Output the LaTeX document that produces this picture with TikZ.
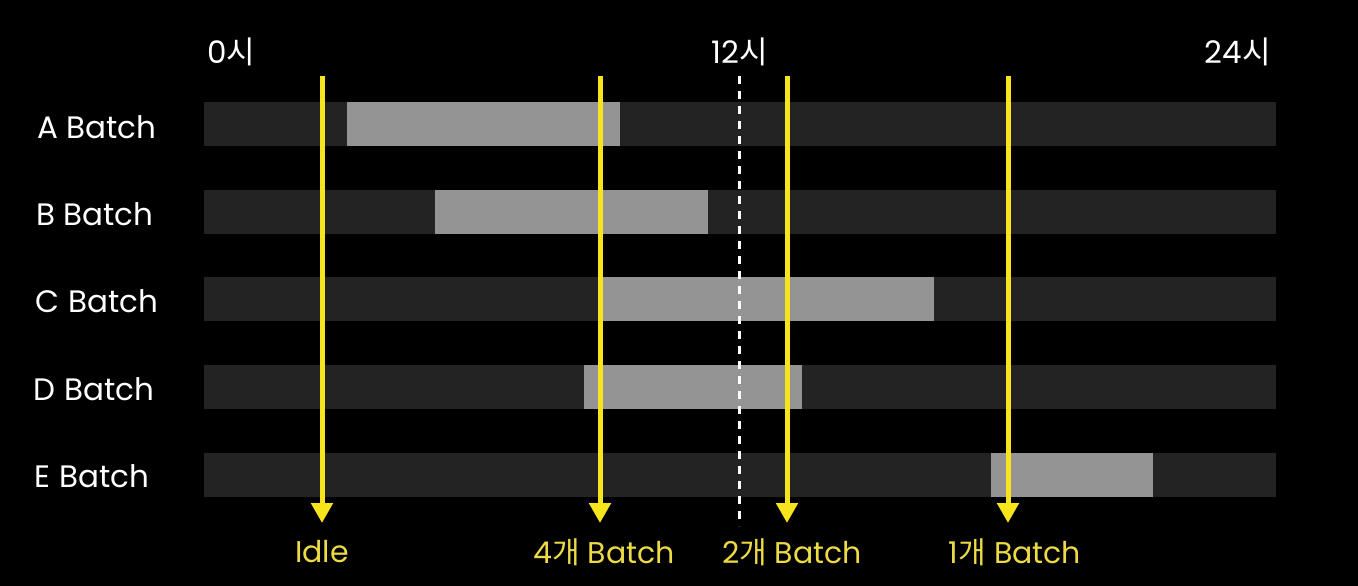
\documentclass[tikz,border=0pt]{standalone}
\usepackage{fontspec}
\setmainfont{Poppins}
\newfontfamily\krfont{Noto Sans CJK KR}
\newcommand{\kr}[1]{{\krfont #1}}
\usetikzlibrary{arrows.meta}
\definecolor{bgc}{HTML}{000000}
\definecolor{darkbar}{HTML}{232323}
\definecolor{lightbar}{HTML}{949494}
\definecolor{arrowy}{HTML}{F7E41C}
\definecolor{texty}{HTML}{ECDB45}
\tikzset{
  rowlabel/.style={text=white, font=\fontsize{31}{34}\selectfont, anchor=center, inner sep=0pt},
  timelabel/.style={text=white, font=\fontsize{31}{34}\selectfont, inner sep=0pt},
  countlabel/.style={text=texty, font=\fontsize{30}{34}\selectfont, anchor=center, inner sep=0pt},
  darkseg/.style={fill=darkbar},
  lightseg/.style={fill=lightbar},
  marker/.style={draw=arrowy, line width=5pt, -{Triangle[width=21pt,length=20pt]}},
  noonline/.style={draw=white, line width=3pt, dash pattern=on 8pt off 7pt}
}
\begin{document}
\begin{tikzpicture}[x=1pt,y=-1pt]
\fill[bgc] (0,0) rectangle (1358,586);
\useasboundingbox (0,0) rectangle (1358,586);
% time labels
\node[timelabel, anchor=west] (t0) at (207,52) {0\kr{시}};
\node[timelabel, anchor=center] (t12) at (740,52) {12\kr{시}};
\node[timelabel, anchor=east] (t24) at (1271,52) {24\kr{시}};
% rows
\foreach \n/\y/\a/\b in {A/102/347/620, B/190/435/708, C/277/602/934, D/365/584/802, E/453/991/1153}{
  \fill[darkseg] (204,\y) rectangle (1276,\y+44);
  \fill[lightseg] (\a,\y) rectangle (\b,\y+44);
}
\node[rowlabel] (la) at (97,127) {A Batch};
\node[rowlabel] (lb) at (95,214) {B Batch};
\node[rowlabel] (lc) at (97,301) {C Batch};
\node[rowlabel] (ld) at (94,389) {D Batch};
\node[rowlabel] (le) at (92,476) {E Batch};
% noon dashed line
\coordinate (n1) at (739,76);
\coordinate (n2) at (739,526);
\draw[noonline] (n1) -- (n2);
% markers
\foreach \i/\x in {1/322,2/600,3/787,4/1008}{
  \coordinate (s\i) at (\x,76);
  \coordinate (e\i) at (\x,523);
  \draw[marker] (s\i) -- (e\i);
}
% counts
\node[countlabel] (c1) at (322,552) {Idle};
\node[countlabel] (c2) at (604,552) {4\kr{개} Batch};
\node[countlabel] (c3) at (792,552) {2\kr{개} Batch};
\node[countlabel] (c4) at (1015,552) {1\kr{개} Batch};
\end{tikzpicture}
\end{document}
